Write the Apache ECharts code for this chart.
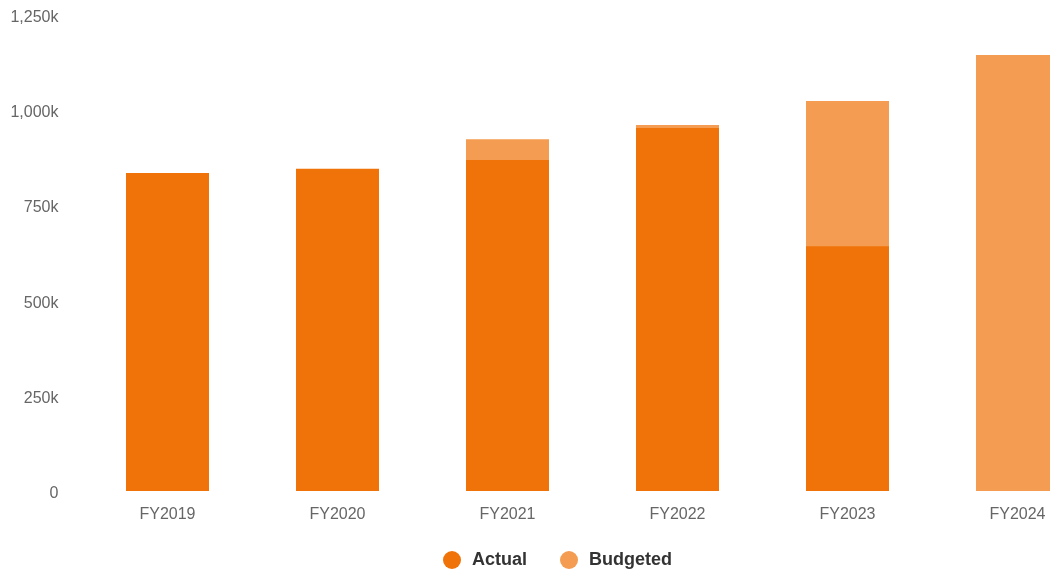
<!DOCTYPE html>
<html>
<head>
<meta charset="utf-8">
<script src="https://cdn.jsdelivr.net/npm/echarts@6/dist/echarts.min.js"></script>
<style>
  html, body { margin: 0; padding: 0; background: #fff; }
  #chart { width: 1050px; height: 573px; }
</style>
</head>
<body>
<div id="chart"></div>
<script>
// Fiscal years on the category axis
const years = ['FY2019', 'FY2020', 'FY2021', 'FY2022', 'FY2023', 'FY2024'];
// Spending actually recorded per year (no actuals yet for FY2024)
const actual = [835000, 846000, 869000, 953000, 643000, null];
// Budgeted amount per year (drawn behind the actual bar)
const budgeted = [null, null, 924000, 961000, 1024000, 1145000];
// Value axis ticks
const yTicks = [0, 250000, 500000, 750000, 1000000, 1250000];

const chart = echarts.init(document.getElementById('chart'));
const font = 'Liberation Sans, Arial, Helvetica, sans-serif';

function fmtK(v) {
  if (v === 0) return '0';
  return (v / 1000).toLocaleString('en-US') + 'k';
}

chart.setOption({
  animation: false,
  textStyle: { fontFamily: font },
  // plot area runs past the right edge, so the last bar is cut off
  grid: { left: 82.5, width: 1020, top: 15, bottom: 82, containLabel: false, outerBoundsMode: 'none' },
  legend: {
    data: ['Actual', 'Budgeted'],
    left: 438,
    top: 546,
    padding: 5,
    icon: 'circle',
    itemWidth: 18,
    itemHeight: 18,
    itemGap: 33,
    textStyle: { fontSize: 18, fontWeight: 'bold', color: '#333', fontFamily: font, padding: [0, 0, 0, 6] }
  },
  xAxis: {
    type: 'category',
    data: years,
    axisLine: { show: false },
    axisTick: { show: false },
    axisLabel: { color: '#666', fontSize: 16, margin: 16, fontFamily: font }
  },
  yAxis: {
    type: 'value',
    min: yTicks[0],
    max: yTicks[yTicks.length - 1],
    interval: yTicks[1] - yTicks[0],
    splitLine: { show: false },
    axisLine: { show: false },
    axisTick: { show: false },
    axisLabel: {
      color: '#666', fontSize: 16, margin: 24, formatter: fmtK, fontFamily: font,
      verticalAlign: 'top', lineHeight: 5
    }
  },
  series: [
    {
      name: 'Budgeted',
      type: 'bar',
      data: budgeted,
      barWidth: 83,
      barGap: '-100%',
      itemStyle: { color: '#F49C51' }
    },
    {
      name: 'Actual',
      type: 'bar',
      data: actual,
      barWidth: 83,
      barGap: '-100%',
      itemStyle: { color: '#F0730A' }
    }
  ]
});
</script>
</body>
</html>
